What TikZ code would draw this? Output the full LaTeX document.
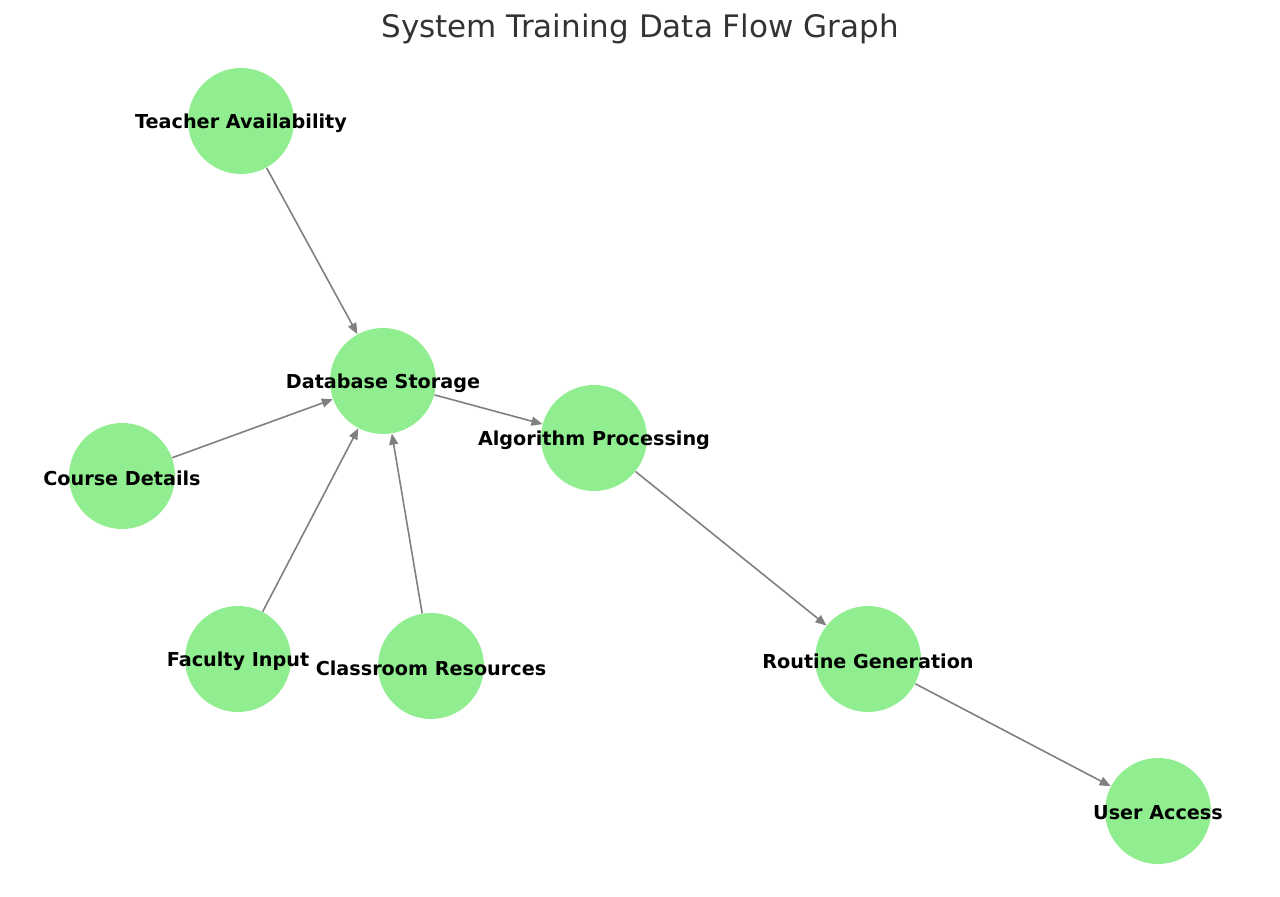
\documentclass[tikz,border=0pt]{standalone}
\usepackage{fontspec}
\setmainfont{DejaVu Sans}
\usetikzlibrary{arrows.meta}
\definecolor{nodegreen}{HTML}{90EE90}
\definecolor{titlegray}{HTML}{333333}
\begin{document}
\begin{tikzpicture}[x=0.5pt, y=-0.5pt,
      station/.style={circle, fill=nodegreen, draw=none, minimum size=53pt, inner sep=0pt,
        label={[font=\bfseries\fontsize{9.6}{11}\selectfont, text=black, yshift=-1pt]center:#1}},
      flow/.style={draw=gray, line width=0.8pt, -{Triangle[length=5.5pt, width=4.5pt]}}]
      \useasboundingbox (0,0) rectangle (1280,897);
      \node[font=\fontsize{15.5}{17}\selectfont, text=titlegray] (title) at (640,29) {System Training Data Flow Graph};
      \node[station={Teacher Availability}] (teacher) at (241,121) {};
      \node[station={Database Storage}] (db) at (383,381) {};
      \node[station={Algorithm Processing}] (algo) at (594,438) {};
      \node[station={Course Details}] (course) at (122,476) {};
      \node[station={Faculty Input}] (faculty) at (238,659) {};
      \node[station={Classroom Resources}] (room) at (431,666) {};
      \node[station={Routine Generation}] (routine) at (868,659) {};
      \node[station={User Access}] (user) at (1158,811) {};
      \draw[flow] (teacher) -- (db);
      \draw[flow] (course) -- (db);
      \draw[flow] (faculty) -- (db);
      \draw[flow] (room) -- (db);
      \draw[flow] (db) -- (algo);
      \draw[flow] (algo) -- (routine);
      \draw[flow] (routine) -- (user);
    \end{tikzpicture}
\end{document}
